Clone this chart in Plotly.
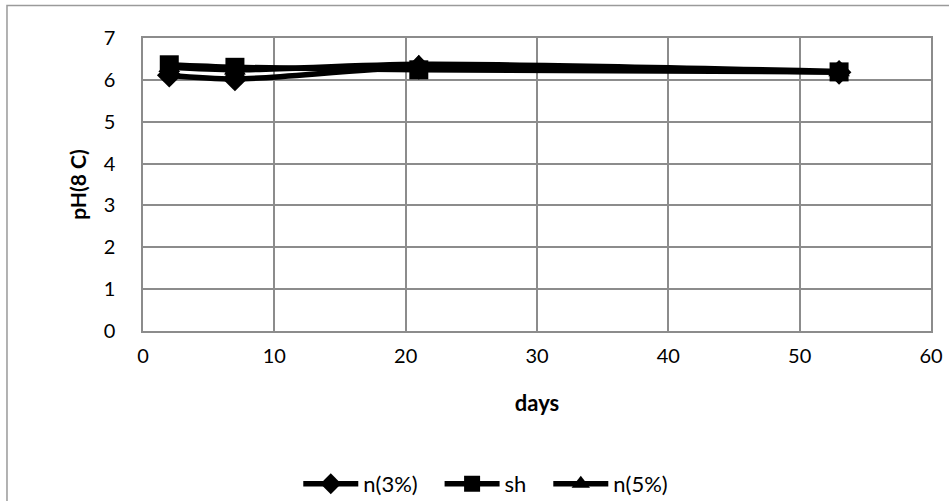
import plotly.graph_objects as go

# Storage time (days) and measured pH at 8 °C for each treatment
days = [2, 7, 21, 53]
ph_n3 = [6.11, 6.02, 6.30, 6.18]
ph_sh = [6.36, 6.30, 6.24, 6.19]
ph_n5 = [6.30, 6.24, 6.37, 6.20]

series = [
    ("n(3%)\u00a0\u00a0\u00a0", ph_n3, "diamond"),
    ("sh\u00a0\u00a0\u00a0", ph_sh, "square"),
    ("n(5%)", ph_n5, "triangle-up"),
]

FONT = "Lato"
GRID = "#8c8c8c"

fig = go.Figure()
for name, vals, sym in series:
    fig.add_trace(go.Scatter(
        x=days, y=vals, name=name, mode="lines+markers",
        line=dict(color="black", width=5.5, shape="spline", smoothing=0.8),
        marker=dict(symbol=sym, size=19, color="black"),
    ))

fig.update_layout(
    width=949, height=501,
    margin=dict(l=143, r=18, t=37.5, b=169.5, autoexpand=False),
    paper_bgcolor="white", plot_bgcolor="white",
    font=dict(family=FONT, size=20, color="black"),
    showlegend=True,
    legend=dict(orientation="h", x=0.435, xanchor="center", y=-0.522, yanchor="middle",
                font=dict(family=FONT, size=22), itemwidth=55, tracegroupgap=0,
                bgcolor="rgba(0,0,0,0)"),
    xaxis=dict(range=[0, 60], dtick=10, tick0=0, showgrid=True, gridcolor=GRID, gridwidth=1.5,
               showline=True, linecolor=GRID, linewidth=1.5, mirror=True, zeroline=False,
               ticks="", ticklabelstandoff=6,
               title=dict(text="<b>days</b>", font=dict(family=FONT, size=22), standoff=30)),
    yaxis=dict(range=[0, 7], dtick=1, tick0=0, showgrid=True, gridcolor=GRID, gridwidth=1.5,
               showline=True, linecolor=GRID, linewidth=1.5, mirror=True, zeroline=False,
               ticks="", ticklabelstandoff=22,
               title=dict(text="<b>pH(8 C)</b>", font=dict(family=FONT, size=21), standoff=11)),
    shapes=[dict(type="rect", xref="paper", yref="paper",
                 x0=-0.1726, x1=1.06, y0=-0.65, y1=1.1105,
                 line=dict(color="#9a9a9a", width=1.5), fillcolor="rgba(0,0,0,0)", layer="below")],
)

fig.write_html("out.html")
